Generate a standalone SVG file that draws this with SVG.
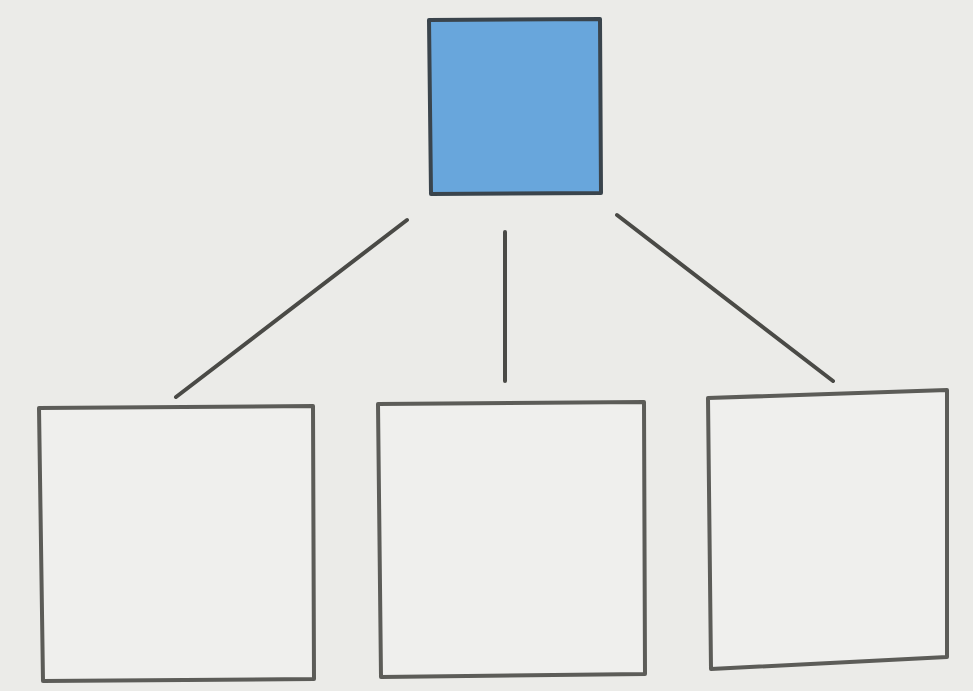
<svg xmlns="http://www.w3.org/2000/svg" width="973" height="691" viewBox="0 0 973 691">
<style>
.box{fill:#efefed;stroke:#5c5c58;stroke-width:4;stroke-linejoin:round}
.root{fill:#68a6dc;stroke:#3a444c;stroke-width:4;stroke-linejoin:round}
.conn{stroke:#4a4a46;stroke-width:4;stroke-linecap:round;fill:none}
</style>
<rect width="973" height="691" fill="#ebebe8"/>
<g id="root"><polygon class="root" points="429,20 600,19 601,193 431,194"/></g>
<g id="connectors">
<line class="conn" x1="407" y1="220" x2="176" y2="397"/>
<line class="conn" x1="505" y1="232" x2="505" y2="381"/>
<line class="conn" x1="617" y1="215" x2="833" y2="381"/>
</g>
<g id="child1"><polygon class="box" points="39,408 313,406 314,679 43,681"/></g>
<g id="child2"><polygon class="box" points="378,404 644,402 645,674 381,677"/></g>
<g id="child3"><polygon class="box" points="708,398 947,390 947,657 711,669"/></g>
</svg>
